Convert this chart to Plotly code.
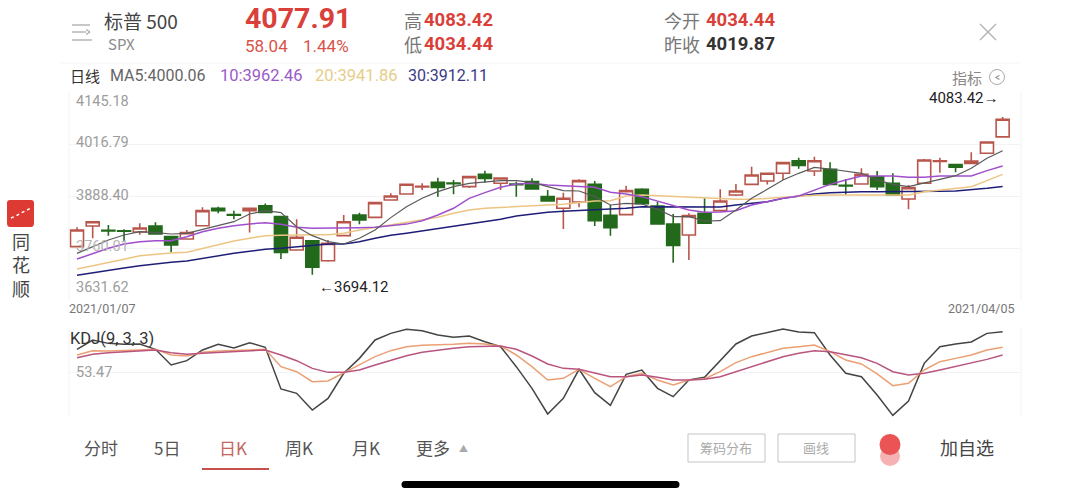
import plotly.graph_objects as go

W, H = 1080, 499

dates = ["2021/01/07","2021/01/08","2021/01/11","2021/01/12","2021/01/13","2021/01/14","2021/01/15","2021/01/19","2021/01/20","2021/01/21",
         "2021/01/22","2021/01/25","2021/01/26","2021/01/27","2021/01/28","2021/01/29","2021/02/01","2021/02/02","2021/02/03","2021/02/04",
         "2021/02/05","2021/02/08","2021/02/09","2021/02/10","2021/02/11","2021/02/12","2021/02/16","2021/02/17","2021/02/18","2021/02/19",
         "2021/02/22","2021/02/23","2021/02/24","2021/02/25","2021/02/26","2021/03/01","2021/03/02","2021/03/03","2021/03/04","2021/03/05",
         "2021/03/08","2021/03/09","2021/03/10","2021/03/11","2021/03/12","2021/03/15","2021/03/16","2021/03/17","2021/03/18","2021/03/19",
         "2021/03/22","2021/03/23","2021/03/24","2021/03/25","2021/03/26","2021/03/29","2021/03/30","2021/03/31","2021/04/01","2021/04/05"]

open_ = [3763.3,3814.3,3803.5,3802.5,3799.5,3814.3,3788,3782.2,3815,3858,
         3842.3,3852,3864.5,3837.4,3755,3778,3728.7,3790.5,3841.5,3835.7,
         3878.5,3893.4,3910.7,3922,3920.5,3911.5,3942,3919.7,3918,3923.8,
         3886.8,3858,3873.6,3917.3,3840.7,3842.4,3904.9,3863.8,3819.3,3792.1,
         3845.6,3852.2,3890.9,3917.2,3925.4,3944.4,3975.6,3950.1,3954.2,3914.7,
         3918,3936.1,3919.7,3881,3919.7,3974,3965.8,3969,3993.8,4034.44]
close = [3804.5,3825,3802,3801.5,3809.4,3794.6,3767.4,3797.9,3852.2,3852,
         3840.7,3858,3848,3749.3,3786.4,3712.3,3771.5,3825,3829,3872,
         3888.4,3917.3,3912.3,3909.8,3919,3936.2,3932,3932.9,3916.5,3905.7,
         3876,3882.7,3926.3,3827.5,3810.3,3901.6,3869.5,3819.3,3766.6,3839.9,
         3821,3876,3900.8,3940.2,3944.4,3970.7,3964.1,3975.6,3917.2,3913,
         3941.9,3911.4,3890.9,3909,3977.3,3975.6,3959.2,3974.8,4021.7,4077.91]
high = [3811,3825,3817,3806,3821,3823.4,3788,3804.5,3860.4,3862,
        3852,3858,3870,3837.4,3830.8,3778,3779.8,3841.5,3847.2,3872,
        3895,3918,3919.7,3933.7,3928,3937,3951,3934.5,3923.8,3932,
        3903.3,3896.7,3929.6,3925.5,3866.2,3914,3907.4,3874.5,3844,3845.6,
        3882.7,3904.9,3918,3960.8,3945,3971,3983,3985.5,3971.5,3930.4,
        3956.7,3950.1,3944.4,3915.6,3979.8,3983,3967.4,3996.2,4022,4083.42]
low = [3763,3784,3790,3776,3793,3794,3749.3,3782,3815,3845.6,
       3831,3798,3848,3732.8,3755,3694.12,3726,3790,3818.5,3835,
       3878,3893,3903.3,3886.8,3892.6,3908.2,3921.4,3903.3,3886.8,3905,
       3876,3807,3860.5,3814.4,3790.5,3842,3869,3819,3723.8,3730.4,
       3821,3852,3888.4,3917,3917,3928,3955.9,3937.8,3917,3890.9,
       3918,3903.2,3890,3855.5,3919,3946,3946.8,3967.4,3993,4034.44]

ma5 = [3746.8,3763.3,3779.8,3792.1,3800.3,3797.9,3794.6,3796.2,3806.1,3816.8,
       3825,3844,3852.2,3847.3,3812.7,3790.5,3775.7,3769.9,3783.9,3804.5,
       3835,3862.1,3882.7,3899.1,3911.5,3919.7,3923.8,3926.3,3926.3,3922.2,
       3911.5,3901.6,3900.8,3886.8,3866.2,3870.3,3868.7,3855.5,3837.4,3837.4,
       3826.7,3827.5,3853.8,3882.6,3904.9,3927.9,3944.4,3959.2,3955,3950,
       3944.4,3927.9,3917,3911.4,3921.3,3929.6,3938.6,3956.7,3981.4,4000.06]
ma10 = [3732.8,3746.8,3759.2,3769.9,3775.7,3778.1,3778.1,3788,3800.3,3808.5,
        3815.2,3819.3,3822.6,3818.5,3811.1,3808.6,3808.6,3808.6,3810.2,3811.1,
        3815,3819,3827.5,3841.5,3858,3882.7,3896.7,3909.8,3918,3919.7,
        3915.6,3914,3911.5,3909.8,3897.5,3893.4,3886.8,3876.1,3866.2,3853.9,
        3848.1,3849,3852.2,3866.2,3874.4,3882.6,3888.4,3903.2,3917.2,3927.9,
        3937.8,3937.8,3937.8,3934.5,3934.5,3937.8,3937.8,3937.8,3951,3962.46]
ma20 = [3708.2,3715.6,3723.8,3732,3741,3745.2,3747.7,3749.3,3759.2,3767.4,
        3777.3,3783.9,3790.5,3791.3,3793,3793,3793,3796.2,3804.5,3811.1,
        3816.8,3822.6,3829.2,3835.8,3845.6,3853.9,3858,3860.5,3862.1,3864.6,
        3866.2,3867.9,3872,3876.1,3876.9,3888.4,3890.9,3889.3,3886.8,3884.3,
        3882.7,3881.5,3880.2,3880.2,3882.6,3885.1,3888.4,3890,3890.9,3890.9,
        3891.7,3891.7,3890.9,3890.9,3899,3903.2,3905.7,3911.4,3926.3,3941.86]
ma30 = [3692.5,3699.1,3704.9,3710.6,3716.4,3721.3,3724.6,3727.9,3734.5,3741.1,
        3746.9,3751.8,3756.7,3759.2,3763.3,3766.6,3769.9,3769.9,3775.7,3783.9,
        3791.3,3796.3,3802,3807.8,3812.7,3818.5,3824.3,3830.8,3839,3844,
        3848.1,3850.6,3852.2,3853.9,3857.2,3858,3862.1,3862.1,3860.5,3860.5,
        3860.5,3861.5,3866.2,3870.3,3874.4,3882.6,3888.4,3893.3,3896.6,3898.3,
        3899.1,3899.1,3899.1,3898.3,3899.1,3899.9,3900.8,3903.2,3907.3,3912.11]

kdj_j = [83,95,90.7,89.4,89.9,83,62.6,68.2,82.1,89.4,84.7,91.6,85.5,31.4,25.7,4.1,19.2,51.8,71.2,95.1,
         103.7,109,107.2,101.6,98.5,100.3,92.9,86.4,60.4,32.2,-1.1,19.2,57,26.6,10.1,50.4,56.1,32.2,21.4,43.1,
         46.5,67.8,89.9,100.3,104.6,109.4,105.5,104.6,75.6,51.8,47.4,23.6,-2.9,15.8,64.7,86.4,89.9,92.5,103.7,105.9]
kdj_k = [75.6,81.2,80.8,81.2,82.1,83,75.6,74.3,79,80.8,81.2,82.1,83,60.4,53.9,40.9,41.8,52.6,62.6,73.4,
         81.2,86.4,88.1,88.6,89.4,90.7,89.9,87.3,75.6,60.4,43.1,45.2,57,45.2,34.4,47.4,51.8,43.1,36.6,43.1,
         44.8,53.9,65.6,73.4,79,84.2,86.4,88.6,79.9,69.1,63.9,50.9,35.7,38.7,56.1,66.9,71.2,75.6,82.1,85.5]
kdj_d = [72.1,76.4,78.6,79.9,81.2,82.1,78.6,76.4,77.7,79,79.9,81.2,82.1,75.6,68.2,58.2,53,53,56.1,62.6,
         69.1,74.7,79,82.1,84.2,86.4,87.3,87.3,83,74.3,63.9,58.2,57,52.6,47.4,47.4,49.6,46.5,43.1,43.1,
         43.9,47.4,53.9,60.4,66.9,73.4,77.7,81.2,79.9,76.4,72.1,64.7,53.9,49.6,51.8,56.1,60.4,64.7,69.9,75.6]

price_ticks = [4145.18, 4016.79, 3888.40, 3760.01, 3631.62]
kdj_mid = 53.47
RED = "#b9564c"
GREEN = "#22691c"
TXT_RED = "#d9403a"
GRID = "#f3f3f3"
FONT = "Noto Sans CJK SC, Noto Sans, sans-serif"
NUM = "Roboto, Noto Sans, sans-serif"
ARROW = "<span style=\"font-family:'Liberation Sans'\">{}</span>"


def px(x):
    return x / W


def py(y):
    return 1 - y / H


fig = go.Figure()
fig.add_trace(go.Candlestick(
    x=dates, open=open_, high=high, low=low, close=close, xaxis="x", yaxis="y",
    whiskerwidth=0,
    increasing=dict(line=dict(color=RED, width=1.6), fillcolor="white"),
    decreasing=dict(line=dict(color=GREEN, width=1.6), fillcolor=GREEN),
    showlegend=False))
for vals, col, wd in [(ma30, "#1e1e78", 1.5), (ma20, "#edc583", 1.5), (ma10, "#a04fcc", 1.5), (ma5, "#5a5a5a", 1.2)]:
    fig.add_trace(go.Scatter(x=dates, y=vals, mode="lines", line=dict(color=col, width=wd), showlegend=False, xaxis="x", yaxis="y"))
for vals, col in [(kdj_j, "#444444"), (kdj_k, "#eb9f73"), (kdj_d, "#b9547f")]:
    fig.add_trace(go.Scatter(x=dates, y=vals, mode="lines", line=dict(color=col, width=1.5), showlegend=False, xaxis="x2", yaxis="y2"))

ann = []


def t(x, y, s, size, color="#333333", anchor="left", font=FONT, bold=False):
    txt = f"<b>{s}</b>" if bold else s
    ann.append(dict(x=px(x), y=py(y), xref="paper", yref="paper", text=txt, showarrow=False,
                    xanchor=anchor, yanchor="middle", align=anchor, borderpad=0, borderwidth=0,
                    font=dict(size=size, color=color, family=font)))


# header
t(104, 20, "标普 500", 19, "#444444")
t(108, 44, "SPX", 15, "#8a8a8a")
t(245, 18, "4077.91", 28.5, TXT_RED, font=NUM, bold=True)
t(245, 46, "58.04", 17, "#d9534a", font=NUM)
t(303, 46, "1.44%", 17, "#d9534a", font=NUM)
t(404, 20, "高", 18, "#777777")
t(424, 20, "4083.42", 18.5, TXT_RED, font=NUM, bold=True)
t(404, 44, "低", 18, "#777777")
t(424, 44, "4034.44", 18.5, TXT_RED, font=NUM, bold=True)
t(664, 20, "今开", 18, "#777777")
t(706, 20, "4034.44", 18.5, TXT_RED, font=NUM, bold=True)
t(664, 44, "昨收", 18, "#777777")
t(706, 44, "4019.87", 18.5, "#333333", font=NUM, bold=True)
# MA strip
t(70, 75, "日线", 15, "#333333")
t(110, 75, "MA5:4000.06", 16, "#666666", font=NUM)
t(220, 75, "10:3962.46", 16.5, "#9a5bc8", font=NUM)
t(315, 75, "20:3941.86", 16.5, "#e6cd8a", font=NUM)
t(408, 75, "30:3912.11", 16, "#3a3a86", font=NUM)
t(982, 77, "指标", 15, "#888888", anchor="right")
t(997, 77, "<", 10, "#888888", anchor="center", font=NUM)
# axis labels
t(76, 102, f"{price_ticks[0]:.2f}", 14.5, "#9c9c9c", font=NUM)
t(76, 142, f"{price_ticks[1]:.2f}", 14.5, "#9c9c9c", font=NUM)
t(76, 195, f"{price_ticks[2]:.2f}", 14.5, "#9c9c9c", font=NUM)
t(76, 247, f"{price_ticks[3]:.2f}", 14.5, "#b5b5b5", font=NUM)
t(76, 287, f"{price_ticks[4]:.2f}", 14.5, "#9c9c9c", font=NUM)
t(69, 308, dates[0], 12.5, "#777777", font=NUM)
t(1015, 308, dates[-1], 12.5, "#777777", anchor="right", font=NUM)
t(319, 287, ARROW.format("←") + "3694.12", 15, "#222222", font=NUM)
t(929, 98, "4083.42" + ARROW.format("→"), 15, "#222222", font=NUM)
t(70, 338, "KDJ(9, 3, 3)", 16.5, "#333333", font=NUM)
t(76, 372, f"{kdj_mid:.2f}", 14.5, "#9c9c9c", font=NUM)
# bottom nav
t(84, 447, "分时", 17, "#555555")
t(154, 447, "5日", 17, "#555555")
t(219, 447, "日K", 17, "#c4665e")
t(285, 447, "周K", 17, "#555555")
t(352, 447, "月K", 17, "#555555")
t(416, 447, "更多", 17, "#555555")
t(463, 448, "▲", 9, "#aaaaaa", anchor="center")
t(726, 447, "筹码分布", 13, "#aaaaaa", anchor="center")
t(816, 447, "画线", 13, "#aaaaaa", anchor="center")
t(940, 447, "加自选", 18, "#444444")
# side brand
t(21, 264.5, "同<br>花<br>顺", 18, "#444444", anchor="center")

sh = []


def line(x0, y0, x1, y1, color, width=1):
    sh.append(dict(type="line", xref="paper", yref="paper", x0=px(x0), y0=py(y0), x1=px(x1), y1=py(y1),
                   line=dict(color=color, width=width)))


def rect(x0, y0, x1, y1, color, fill="rgba(0,0,0,0)", width=1):
    sh.append(dict(type="rect", xref="paper", yref="paper", x0=px(x0), y0=py(y0), x1=px(x1), y1=py(y1),
                   line=dict(color=color, width=width), fillcolor=fill))


def circ(cx, cy, r, fill, lc="rgba(0,0,0,0)", width=0):
    sh.append(dict(type="circle", xref="paper", yref="paper", x0=px(cx - r), y0=py(cy - r), x1=px(cx + r), y1=py(cy + r),
                   line=dict(color=lc, width=width), fillcolor=fill))


# menu icon
line(72, 25, 90, 25, "#aaaaaa", 1.3)
line(72, 32, 86, 32, "#aaaaaa", 1.3)
line(86, 29.5, 90, 32, "#aaaaaa", 1.3)
line(86, 34.5, 90, 32, "#aaaaaa", 1.3)
line(72, 40, 92, 40, "#aaaaaa", 1.3)
# close
line(980, 24, 996, 40, "#b0b0b0", 1.3)
line(996, 24, 980, 40, "#b0b0b0", 1.3)
# separators
line(60, 63, 1020, 63, "#f4f4f4", 1)
# panel frames
line(69, 92, 69, 300, GRID)
line(1021, 92, 1021, 300, GRID)
line(69, 327, 69, 417, GRID)
line(1021, 327, 1021, 417, GRID)
# indicator icon
circ(997, 77, 7.5, "rgba(0,0,0,0)", "#aaaaaa", 1)
# logo
sh.append(dict(type="path", xref="paper", yref="paper",
               path=f"M {px(10)} {py(200)} L {px(31)} {py(200)} Q {px(34)} {py(200)} {px(34)} {py(203)} L {px(34)} {py(223)} Q {px(34)} {py(227)} {px(31)} {py(227)} L {px(10)} {py(227)} Q {px(7)} {py(227)} {px(7)} {py(223)} L {px(7)} {py(203)} Q {px(7)} {py(200)} {px(10)} {py(200)} Z",
               fillcolor="#dd3a33", line=dict(width=0)))
sh.append(dict(type="path", xref="paper", yref="paper",
               path=f"M {px(11)} {py(218)} L {px(16)} {py(216)} L {px(21)} {py(213)} L {px(27)} {py(210)} L {px(31)} {py(208)}",
               line=dict(color="white", width=1.5, dash="dot")))
# underline, home indicator, buttons, dots
line(202, 469, 269, 469, "#c4524a", 2)
line(405, 484.5, 676, 484.5, "#000000", 7)
circ(405, 484.5, 3.5, "#000000")
circ(676, 484.5, 3.5, "#000000")
rect(688, 434, 765, 462, "#c4c4c4")
rect(778, 434, 855, 462, "#c4c4c4")
circ(890, 456, 10, "#f6b2b2")
circ(890, 444.5, 10.5, "#ea5455")

fig.update_layout(
    width=W, height=H, margin=dict(l=0, r=0, t=0, b=0, pad=0),
    paper_bgcolor="white", plot_bgcolor="white", autosize=False,
    boxgap=0.17, boxgroupgap=0,
    showlegend=False, annotations=ann, shapes=sh,
    xaxis=dict(domain=[px(69), px(1021)], type="category", range=[-0.51, 60.17], categoryorder="array", categoryarray=dates,
               rangeslider=dict(visible=False), showticklabels=False, showgrid=False, zeroline=False, ticks="", anchor="y"),
    yaxis=dict(domain=[py(300), py(92)], range=[price_ticks[-1], price_ticks[0]], tickvals=price_ticks,
               showticklabels=False, gridcolor=GRID, gridwidth=1, zeroline=False, ticks="", anchor="x"),
    xaxis2=dict(domain=[px(69), px(1021)], type="category", range=[-0.51, 60.17], categoryorder="array", categoryarray=dates,
                showticklabels=False, showgrid=False, zeroline=False, ticks="", anchor="y2"),
    yaxis2=dict(domain=[py(417), py(327)], range=[-5.03, 111.97], tickvals=[-5.03, kdj_mid, 111.97],
                showticklabels=False, gridcolor=GRID, gridwidth=1, zeroline=False, ticks="", anchor="x2"),
)

fig.write_html("out.html", config=dict(displayModeBar=False), post_script="document.body.style.margin='0';")
